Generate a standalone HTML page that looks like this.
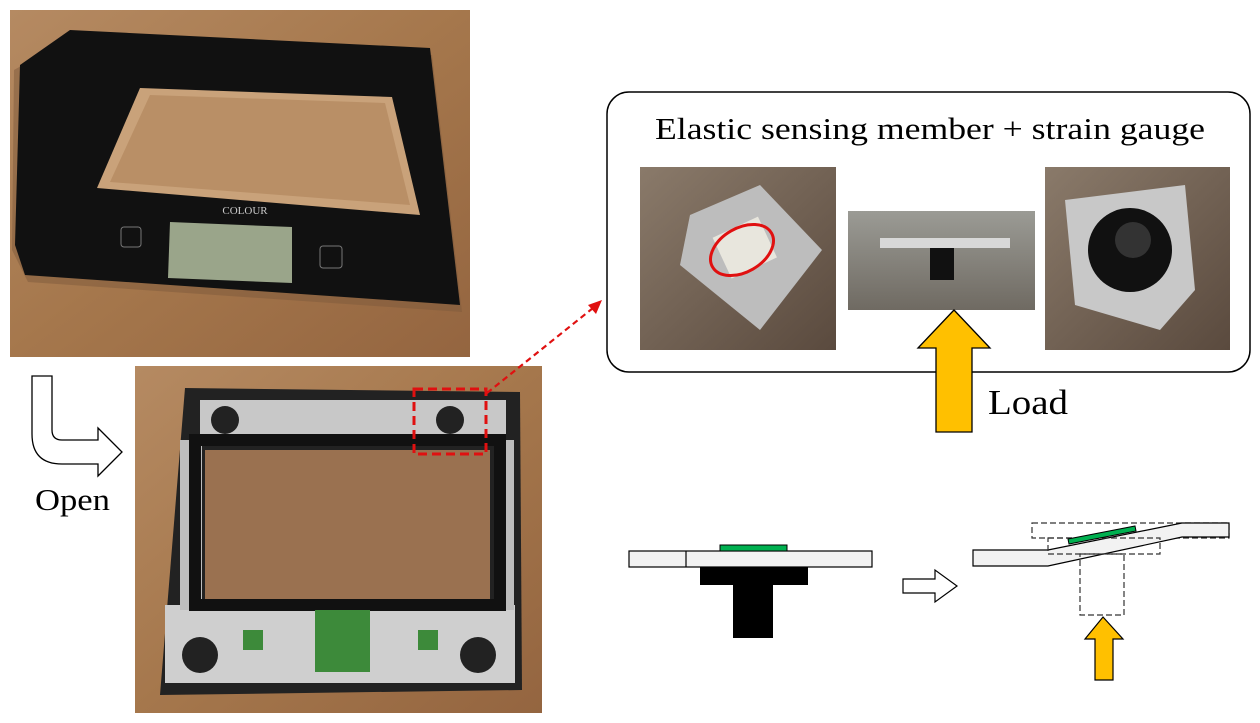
<!DOCTYPE html>
<html><head><meta charset="utf-8"><style>
html,body{margin:0;padding:0;background:#fff;width:1260px;height:723px;overflow:hidden}
text{font-family:"Liberation Serif",serif}
</style></head><body>
<svg width="1260" height="723" viewBox="0 0 1260 723" xmlns="http://www.w3.org/2000/svg">
<defs>
<linearGradient id="wood" x1="0" y1="0" x2="1" y2="1"><stop offset="0" stop-color="#b58a62"/><stop offset="0.5" stop-color="#a5774c"/><stop offset="1" stop-color="#946540"/></linearGradient>
<linearGradient id="gray" x1="0" y1="0" x2="1" y2="1"><stop offset="0" stop-color="#8a7a6a"/><stop offset="1" stop-color="#5a4a3e"/></linearGradient>
<linearGradient id="gray2" x1="0" y1="0" x2="0" y2="1"><stop offset="0" stop-color="#9b9b95"/><stop offset="1" stop-color="#6f6a62"/></linearGradient>
</defs>

<g>
<rect x="10" y="10" width="460" height="347" fill="url(#wood)"/>
<polygon points="72,37 432,55 462,312 28,282 12,250 14,70" fill="#7e5a3c" opacity="0.5"/>
<polygon points="70,30 430,48 460,305 25,275 15,245 20,65" fill="#111"/>
<polygon points="140,88 392,97 420,215 97,188" fill="#c9a27a"/>
<polygon points="150,95 385,103 410,205 110,182" fill="#b98f66"/>
<polygon points="170,222 292,227 292,283 168,278" fill="#9aa58a"/>
<text x="245" y="214" font-size="11" fill="#ccc" text-anchor="middle" font-family="Liberation Sans">COLOUR</text>
<rect x="121" y="227" width="20" height="20" rx="3" fill="none" stroke="#777"/>
<rect x="320" y="246" width="22" height="22" rx="3" fill="none" stroke="#777"/>
</g>

<path d="M32,376 L52,376 L52,430 Q52,440 62,440 L98,440 L98,428 L122,452 L98,476 L98,464 L62,464 Q32,464 32,434 Z" fill="#fff" stroke="#000" stroke-width="1.3"/>
<text x="35" y="510" font-size="31" textLength="75" lengthAdjust="spacingAndGlyphs">Open</text>

<g>
<rect x="135" y="366" width="407" height="347" fill="url(#wood)"/>
<polygon points="185,388 520,392 522,690 160,695" fill="#222"/>
<rect x="200" y="400" width="306" height="40" fill="#c8c8c8"/>
<rect x="165" y="605" width="350" height="78" fill="#cfcfcf"/>
<rect x="180" y="440" width="22" height="170" fill="#bdbdbd"/>
<rect x="496" y="440" width="18" height="170" fill="#bdbdbd"/>
<rect x="205" y="450" width="285" height="150" fill="#9a7150"/>
<rect x="195" y="440" width="305" height="165" fill="none" stroke="#111" stroke-width="12"/>
<circle cx="225" cy="420" r="14" fill="#222"/>
<circle cx="450" cy="420" r="14" fill="#222"/>
<circle cx="200" cy="655" r="18" fill="#222"/>
<circle cx="478" cy="655" r="18" fill="#222"/>
<rect x="315" y="610" width="55" height="62" fill="#3d8a3a"/>
<rect x="243" y="630" width="20" height="20" fill="#3d8a3a"/>
<rect x="418" y="630" width="20" height="20" fill="#3d8a3a"/>
</g>

<rect x="414" y="389" width="72" height="65" fill="none" stroke="#e01010" stroke-width="3" stroke-dasharray="9,5"/>
<line x1="487" y1="393" x2="593" y2="308" stroke="#e01010" stroke-width="2.2" stroke-dasharray="6,4"/>
<polygon points="602,300 588,305 596,314" fill="#e01010"/>

<rect x="607" y="92" width="643" height="280" rx="22" fill="#fff" stroke="#000" stroke-width="1.5"/>
<text x="655" y="139" font-size="31" textLength="550" lengthAdjust="spacingAndGlyphs">Elastic sensing member + strain gauge</text>

<g>
<rect x="640" y="167" width="196" height="183" fill="url(#gray)"/>
<polygon points="690,215 760,185 822,250 760,330 680,265" fill="#bdbdbd"/>
<rect x="720" y="225" width="50" height="45" fill="#e8e6dd" transform="rotate(-25 745 248)"/>
<ellipse cx="742" cy="250" rx="34" ry="22" transform="rotate(-30 742 250)" fill="none" stroke="#e01010" stroke-width="3"/>
</g>
<g>
<rect x="848" y="211" width="187" height="99" fill="url(#gray2)"/>
<rect x="880" y="238" width="130" height="10" fill="#d8d8d8"/>
<rect x="930" y="248" width="24" height="32" fill="#111"/>
</g>
<g>
<rect x="1045" y="167" width="185" height="183" fill="url(#gray)"/>
<polygon points="1065,200 1185,185 1195,290 1160,330 1075,305" fill="#c8c8c8"/>
<circle cx="1130" cy="250" r="42" fill="#111"/>
<circle cx="1133" cy="240" r="18" fill="#333"/>
</g>

<polygon points="954,310 990,348 972,348 972,432 936,432 936,348 918,348" fill="#ffc000" stroke="#000" stroke-width="1.3"/>
<text x="988" y="414" font-size="35" textLength="80" lengthAdjust="spacingAndGlyphs">Load</text>

<g>
<rect x="629" y="551" width="243" height="16" fill="#f2f2f2" stroke="#000" stroke-width="1.2"/>
<line x1="686" y1="551" x2="686" y2="567" stroke="#000" stroke-width="1.2"/>
<rect x="720" y="545" width="67" height="6" fill="#00b050" stroke="#000" stroke-width="1"/>
<rect x="700" y="567" width="108" height="18" fill="#000"/>
<rect x="733" y="585" width="40" height="53" fill="#000"/>
</g>
<polygon points="903,579 935,579 935,570 957,586 935,602 935,593 903,593" fill="#fff" stroke="#000" stroke-width="1.2"/>

<g>
<rect x="1032" y="523" width="197" height="15" fill="none" stroke="#333" stroke-width="1.2" stroke-dasharray="6,3"/>
<polygon points="973,550 1048,550 1182,523 1229,523 1229,537 1182,537 1048,566 973,566" fill="#f2f2f2" stroke="#000" stroke-width="1.2"/>
<rect x="1048" y="538" width="112" height="16" fill="none" stroke="#333" stroke-width="1.2" stroke-dasharray="6,3"/>
<polygon points="1068,539 1135,526 1136,531 1069,544" fill="#00b050" stroke="#000" stroke-width="1"/>
<rect x="1080" y="554" width="44" height="61" fill="none" stroke="#333" stroke-width="1.2" stroke-dasharray="6,3"/>
</g>
<polygon points="1103,617 1123,639 1113,639 1113,680 1095,680 1095,639 1085,639" fill="#ffc000" stroke="#000" stroke-width="1.2"/>
</svg>
</body></html>
